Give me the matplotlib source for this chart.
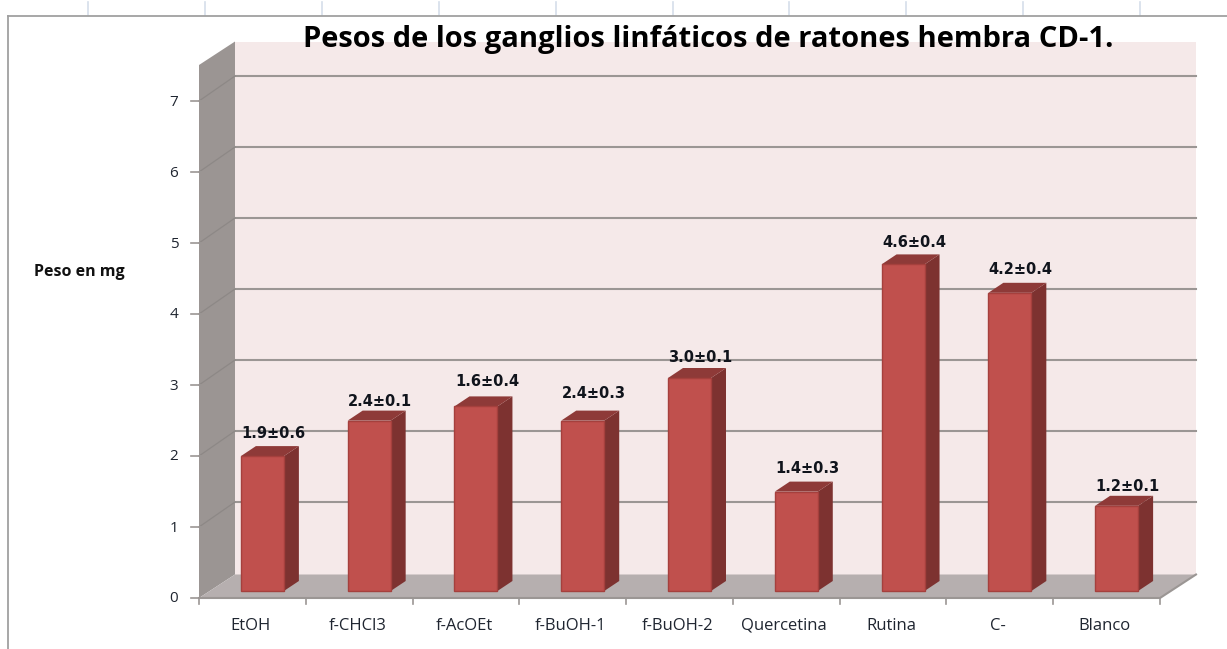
import numpy as np
import matplotlib
matplotlib.use("Agg")
import matplotlib.pyplot as plt
from matplotlib.patches import Polygon

categories = ["EtOH", "f-CHCl3", "f-AcOEt", "f-BuOH-1", "f-BuOH-2", "Quercetina", "Rutina", "C-", "Blanco"]
pesos = [1.9, 2.4, 2.6, 2.4, 3.0, 1.4, 4.6, 4.2, 1.2]
etiquetas = ["1.9±0.6", "2.4±0.1", "1.6±0.4", "2.4±0.3", "3.0±0.1", "1.4±0.3", "4.6±0.4", "4.2±0.4", "1.2±0.1"]
y_ticks = [0, 1, 2, 3, 4, 5, 6, 7]
titulo = "Pesos de los ganglios linfáticos de ratones hembra CD-1."

W, H = 1227, 649
# pixel layout of the front plane of the fake 3d box
X0, X1, Y0, Y1 = 199, 1160, 598, 65
PX_X = 9 / (X1 - X0)
PX_Y = 1 / 71.0
DX, DY = 36 * PX_X, 23.5 * PX_Y  # box depth
GRID_DY = 25 * PX_Y  # grid on back wall sits a bit higher than the floor edge
YMAX = (Y0 - Y1) * PX_Y

GRID = "#9b9694"


def poly(ax, pts, color, edge="none", lw=0, z=1):
    ax.add_patch(Polygon(pts, closed=True, facecolor=color, edgecolor=edge, linewidth=lw,
                         zorder=z, clip_on=False))


fig = plt.figure(figsize=(W / 100, H / 100), dpi=100)

# ruler ticks and sheet border behind the chart
bg = fig.add_axes([0, 0, 1, 1])
bg.set_xlim(0, W)
bg.set_ylim(H, 0)
bg.axis("off")
for x in np.arange(88, W, 116.9):
    bg.plot([x, x], [2, 15], color="#d5deea", lw=1.2)
bg.plot([8, W], [16, 16], color="#a0a0a0", lw=1.3)
bg.plot([8, 8], [16, H], color="#a0a0a0", lw=1.3)

ax = fig.add_axes([X0 / W, (H - Y0) / H, (X1 - X0) / W, (Y0 - Y1) / H])
ax.set_xlim(0, 9)
ax.set_ylim(0, YMAX)
ax.axis("off")

# walls and floor
poly(ax, [(DX, DY), (9 + DX, DY), (9 + DX, YMAX + DY), (DX, YMAX + DY)], "#f5e9e9")
poly(ax, [(0, 0), (DX, DY), (DX, YMAX + DY), (0, YMAX)], "#9b9593")
poly(ax, [(0, 0), (9, 0), (9 + DX, DY), (DX, DY)], "#b6afaf")

# gridlines, ticks
for v in y_ticks:
    if v > 0:
        ax.plot([DX, 9 + DX], [v + GRID_DY, v + GRID_DY], color=GRID, lw=1.5, zorder=2, clip_on=False)
        ax.plot([0, DX], [v, v + GRID_DY], color="#8d8886", lw=0.9, zorder=2, clip_on=False)
    ax.plot([-8 * PX_X, 7 * PX_X], [v, v], color=GRID, lw=1.2, zorder=2, clip_on=False)
    ax.text(-25 * PX_X, v - 1 * PX_Y, str(v), ha="center", va="center", fontsize=11, color="#1f2530",
            family="Open Sans", clip_on=False)
ax.plot([0, 9, 9 + DX], [0, 0, DY], color=GRID, lw=1.5, zorder=2, clip_on=False)
for i in range(len(categories) + 1):
    ax.plot([i, i], [0, -6 * PX_Y], color=GRID, lw=1.2, clip_on=False)

# bars
ancho = 43 * PX_X
bar_x = 10 * PX_X
bar_dy = 7 * PX_Y
side_x, side_y = 15 * PX_X, 10 * PX_Y
lift = [23, 19, 25, 27, 20, 23, 22, 23, 19]  # label height above bar, px
for i, (p, et) in enumerate(zip(pesos, etiquetas)):
    l = i + 0.5 + bar_x - ancho / 2
    r = l + ancho
    b = bar_dy
    t = bar_dy + p
    poly(ax, [(r, b), (r + side_x, b + side_y), (r + side_x, t + side_y), (r, t)], "#7d3230", z=3)
    poly(ax, [(l, t), (r, t), (r + side_x, t + side_y), (l + side_x, t + side_y)], "#8e3a38", z=3)
    poly(ax, [(l, b), (r, b), (r, t), (l, t)], "#c0504d", edge="#a5403d", lw=1.0, z=4)
    ax.text(i + 0.5 + bar_x + 11 * PX_X, t + lift[i] * PX_Y, et, ha="center", va="center",
            fontsize=10.5, fontweight="bold", color="#10141c", family="DejaVu Sans", zorder=5, clip_on=False)
    ax.text(i + 0.5 - 2 * PX_X, -28 * PX_Y, categories[i], ha="center", va="center",
            fontsize=12, color="#1f2530", family="Open Sans", clip_on=False)

fig.text(708 / W, 1 - 39 / H, titulo, ha="center", va="center", fontsize=21, fontweight="bold",
         color="black", family="Open Sans", zorder=10)
fig.text(79 / W, 1 - 272 / H, "Peso en mg", ha="center", va="center", fontsize=11.5, fontweight="bold",
         color="#111111", family="Open Sans")

fig.savefig("out.png", dpi=100)
